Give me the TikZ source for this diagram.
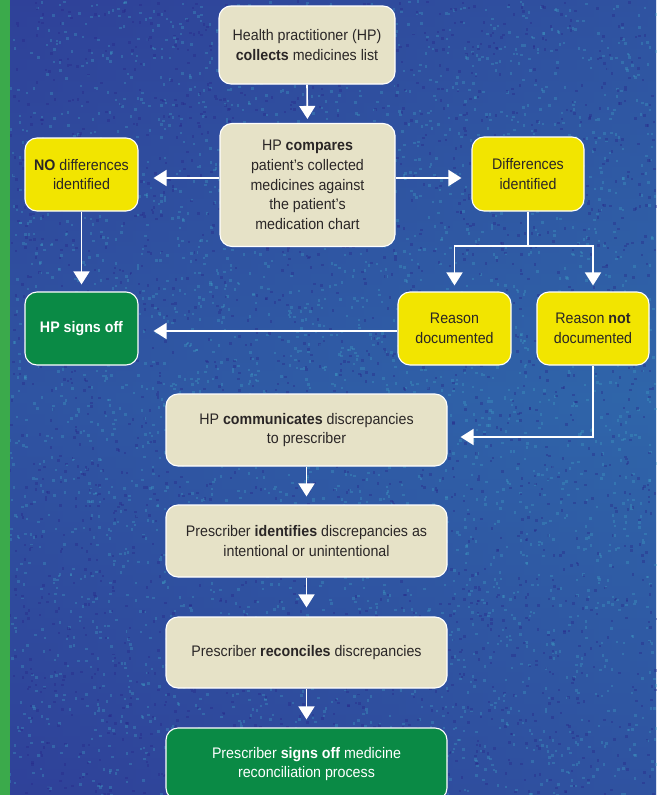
\documentclass[tikz,border=0pt]{standalone}
\usepackage{fontspec}
\setmainfont{Liberation Sans}[FakeStretch=0.93]
\usetikzlibrary{arrows.meta}
\definecolor{bgA}{HTML}{2F4199}
\definecolor{bgB}{HTML}{2F66AA}
\definecolor{noiseL}{HTML}{3FA0C4}
\definecolor{noiseD}{HTML}{28288A}
\definecolor{stripe}{HTML}{3BAA4B}
\definecolor{beige}{HTML}{E6E2C7}
\definecolor{yel}{HTML}{F2E500}
\definecolor{grn}{HTML}{0A8A45}
\definecolor{ink}{HTML}{2A2626}
\tikzset{
  box/.style={draw=white, line width=1.1pt, rounded corners=12pt, align=center,
    inner sep=0pt, text=ink, font=\fontsize{15.3}{19.7}\selectfont},
  bbox/.style={box, fill=beige},
  ybox/.style={box, fill=yel},
  gbox/.style={box, fill=grn, text=white},
  arr/.style={draw=white, line width=1.6pt, -{Triangle[width=16pt,length=13pt]}},
  ln/.style={draw=white, line width=1.6pt},
}
\begin{document}
\begin{tikzpicture}[x=1pt,y=-1pt]
\useasboundingbox (0,0) rectangle (656,795);
\shade[left color=bgA, right color=bgB] (0,0) rectangle (656,795);
\shade[top color=bgA, bottom color=bgA, middle color=bgB, opacity=0.5] (0,0) rectangle (656,795);
\pgfmathsetseed{7}
\foreach \i in {1,...,3500}{
  \pgfmathsetmacro{\xx}{rnd*656}
  \pgfmathsetmacro{\yy}{rnd*795}
  \fill[noiseL, opacity=0.35] (\xx,\yy) rectangle +(2.5,2.5);
}
\foreach \i in {1,...,2500}{
  \pgfmathsetmacro{\xx}{rnd*656}
  \pgfmathsetmacro{\yy}{rnd*795}
  \fill[noiseD, opacity=0.4] (\xx,\yy) rectangle +(2.5,2.5);
}
\fill[stripe] (0,0) rectangle (10,795);

\node[bbox, minimum width=176pt, minimum height=78pt] (collect) at (307,45)
  {Health practitioner (HP)\\\textbf{collects} medicines list};
\node[bbox, minimum width=175pt, minimum height=123pt] (compare) at (307.5,185)
  {HP \textbf{compares}\\patient’s collected\\medicines against\\the patient’s\\medication chart};
\node[ybox, minimum width=113pt, minimum height=73pt] (nodiff) at (81.5,174.5)
  {\textbf{NO} differences\\identified};
\node[ybox, minimum width=112pt, minimum height=74pt] (diff) at (528,174)
  {Differences\\identified};
\node[gbox, minimum width=113pt, minimum height=73pt] (signs) at (81.5,328.5)
  {\textbf{HP signs off}};
\node[ybox, minimum width=113pt, minimum height=73pt] (reason) at (454.5,328.5)
  {Reason\\documented};
\node[ybox, minimum width=112pt, minimum height=73pt] (reasonnot) at (593,328.5)
  {Reason \textbf{not}\\documented};
\node[bbox, minimum width=281pt, minimum height=72pt] (comm) at (306.5,430)
  {HP \textbf{communicates} discrepancies\\to prescriber};
\node[bbox, minimum width=281pt, minimum height=72pt] (ident) at (306.5,541)
  {Prescriber \textbf{identifies} discrepancies as\\intentional or unintentional};
\node[bbox, minimum width=281pt, minimum height=71pt] (recon) at (306.5,652.5)
  {Prescriber \textbf{reconciles} discrepancies};
\node[gbox, minimum width=281pt, minimum height=72pt] (final) at (306.5,764)
  {Prescriber \textbf{signs off} medicine\\reconciliation process};

\draw[arr, shorten >=4pt] (collect.south) -- (compare.north);
\draw[arr, shorten >=15pt] (compare.west |- 0,178) -- (nodiff.east |- 0,178);
\draw[arr, shorten >=10pt] (compare.east |- 0,178) -- (diff.west |- 0,178);
\draw[ln] (diff.south) -- (diff.south |- 0,246);
\draw[ln] (reason.north |- 0,246) -- (reasonnot.north |- 0,246);
\draw[arr, shorten >=6pt] (reason.north |- 0,245.2) -- (reason.north);
\draw[arr, shorten >=6pt] (reasonnot.north |- 0,245.2) -- (reasonnot.north);
\draw[arr, shorten >=7pt] (nodiff.south) -- (signs.north);
\draw[arr, shorten >=15pt] (reason.west |- 0,331) -- (signs.east |- 0,331);
\draw[arr, shorten >=13pt, rounded corners=0pt] (reasonnot.south) |- (comm.east |- 0,437);
\draw[arr, shorten >=8pt] (comm.south) -- (ident.north);
\draw[arr, shorten >=9pt] (ident.south) -- (recon.north);
\draw[arr, shorten >=8pt] (recon.south) -- (final.north);
\end{tikzpicture}
\end{document}
